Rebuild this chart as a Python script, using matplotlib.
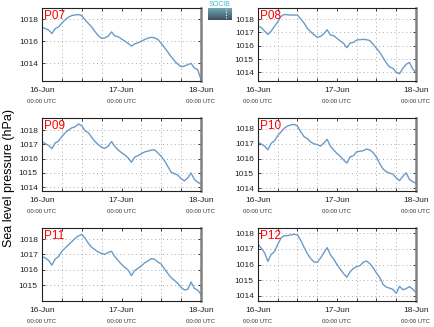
import matplotlib
matplotlib.use("Agg")
import matplotlib.pyplot as plt
import numpy as np

plt.rcParams['font.family'] = ['Liberation Sans', 'DejaVu Sans']

# hours since 16-Jun 00:00 UTC
hours = np.arange(49)

p07 = [1017.27, 1017.15, 1017.02, 1016.7, 1017.15, 1017.3, 1017.65, 1017.95, 1018.2, 1018.34,
       1018.4, 1018.43, 1018.34, 1017.94, 1017.62, 1017.3, 1016.87, 1016.5, 1016.25, 1016.3,
       1016.47, 1016.85, 1016.47, 1016.41, 1016.2, 1016.0, 1015.8, 1015.55, 1015.75, 1015.86,
       1016.0, 1016.15, 1016.28, 1016.35, 1016.3, 1016.15, 1015.8, 1015.4, 1015.0, 1014.58,
       1014.2, 1013.9, 1013.66, 1013.72, 1013.85, 1013.97, 1013.55, 1013.4, 1012.5]
p08 = [1017.48, 1017.35, 1017.1, 1016.85, 1017.1, 1017.45, 1017.8, 1018.2, 1018.35, 1018.32,
       1018.3, 1018.3, 1018.3, 1018.0, 1017.7, 1017.3, 1017.05, 1016.82, 1016.63, 1016.7,
       1016.9, 1017.2, 1016.8, 1016.75, 1016.55, 1016.35, 1016.18, 1015.85, 1016.2, 1016.25,
       1016.43, 1016.45, 1016.48, 1016.45, 1016.38, 1016.1, 1015.8, 1015.5, 1015.1, 1014.7,
       1014.4, 1014.3, 1014.0, 1013.9, 1014.3, 1014.6, 1014.75, 1014.25, 1013.95]
p09 = [1017.19, 1017.05, 1016.92, 1016.7, 1017.1, 1017.23, 1017.55, 1017.8, 1018.0, 1018.15,
       1018.23, 1018.42, 1018.3, 1017.95, 1017.81, 1017.49, 1017.2, 1016.98, 1016.79, 1016.72,
       1016.88, 1017.2, 1016.85, 1016.6, 1016.42, 1016.26, 1016.05, 1015.75, 1016.1, 1016.22,
       1016.35, 1016.47, 1016.53, 1016.6, 1016.62, 1016.4, 1016.16, 1015.85, 1015.45, 1015.05,
       1014.95, 1014.85, 1014.6, 1014.45, 1014.65, 1015.0, 1014.55, 1014.35, 1014.23]
p10 = [1017.1, 1016.98, 1016.85, 1016.6, 1017.03, 1017.2, 1017.55, 1017.8, 1018.06, 1018.2,
       1018.28, 1018.31, 1018.2, 1017.8, 1017.48, 1017.35, 1017.12, 1017.0, 1016.95, 1016.85,
       1017.05, 1017.3, 1016.85, 1016.58, 1016.35, 1016.15, 1015.91, 1015.7, 1016.13, 1016.2,
       1016.47, 1016.5, 1016.54, 1016.65, 1016.58, 1016.4, 1016.1, 1015.65, 1015.3, 1015.12,
       1015.02, 1014.95, 1014.7, 1014.52, 1014.8, 1015.05, 1014.6, 1014.45, 1014.34]
p11 = [1016.85, 1016.77, 1016.6, 1016.3, 1016.7, 1016.85, 1017.2, 1017.42, 1017.62, 1017.83,
       1018.05, 1018.2, 1018.3, 1018.05, 1017.72, 1017.46, 1017.3, 1017.15, 1017.07, 1017.0,
       1017.13, 1017.2, 1016.85, 1016.6, 1016.35, 1016.15, 1015.98, 1015.62, 1015.95, 1016.1,
       1016.25, 1016.45, 1016.57, 1016.72, 1016.68, 1016.5, 1016.36, 1016.05, 1015.75, 1015.48,
       1015.3, 1015.1, 1014.85, 1014.68, 1014.72, 1015.2, 1014.78, 1014.67, 1014.39]
p12 = [1017.29, 1017.05, 1016.75, 1016.2, 1016.65, 1016.82, 1017.3, 1017.7, 1017.85, 1017.85,
       1017.9, 1017.94, 1017.89, 1017.55, 1017.1, 1016.7, 1016.38, 1016.17, 1016.14, 1016.42,
       1016.75, 1017.08, 1016.62, 1016.35, 1016.0, 1015.7, 1015.42, 1015.18, 1015.54, 1015.75,
       1015.86, 1015.93, 1016.15, 1016.22, 1016.05, 1015.78, 1015.45, 1015.15, 1014.72, 1014.55,
       1014.48, 1014.4, 1014.15, 1014.6, 1014.38, 1014.45, 1014.58, 1014.42, 1014.21]

names = ['P07', 'P08', 'P09', 'P10', 'P11', 'P12']
series = [p07, p08, p09, p10, p11, p12]
ylims = [(1012.36, 1019.03), (1013.35, 1018.83), (1013.74, 1018.84),
         (1013.82, 1018.74), (1013.96, 1018.72), (1013.66, 1018.34)]
yticks = [[1014, 1016, 1018], [1014, 1015, 1016, 1017, 1018], [1014, 1015, 1016, 1017, 1018],
          [1014, 1015, 1016, 1017, 1018], [1015, 1016, 1017, 1018], [1014, 1015, 1016, 1017, 1018]]
xtick_pos = [0, 24, 48]
xtick_labels = ['16-Jun', '17-Jun', '18-Jun']

W, H = 435, 327
fig = plt.figure(figsize=(W / 100, H / 100), dpi=100)

lefts = [42, 258]
widths = [159, 158]
tops = [8, 118, 228]
ax_h = 73

for i, (name, vals) in enumerate(zip(names, series)):
    r, c = divmod(i, 2)
    ax = fig.add_axes([lefts[c] / W, 1 - (tops[r] + ax_h) / H, widths[c] / W, ax_h / H])
    ax.plot(hours, vals, color='#6b9bc9', lw=1.0)
    ax.set_xlim(0, 48)
    ax.set_ylim(*ylims[i])
    ax.set_yticks(yticks[i])
    ax.set_yticklabels([str(t) for t in yticks[i]])
    ax.set_xticks(xtick_pos)
    ax.set_xticklabels(xtick_labels)
    ax.set_xticks(np.arange(0, 49, 6), minor=True)
    ax.tick_params(which='both', direction='in', labelsize=6, length=2.5, width=0.6,
                   top=True, right=True, pad=3, colors='#222222')
    ax.tick_params(axis='x', pad=4)
    ax.grid(True, which='major', axis='y', ls=(0, (1, 3)), color='#aaaaaa', lw=0.7)
    ax.grid(True, which='minor', axis='x', ls=(0, (1, 3)), color='#aaaaaa', lw=0.7)
    for s in ['left', 'top', 'bottom']:
        ax.spines[s].set_linewidth(0.8)
        ax.spines[s].set_color('#222222')
    ax.spines['right'].set_linewidth(1.8)
    ax.spines['right'].set_color('#808080')
    for xp in xtick_pos:
        ax.text(xp, -0.245, '00:00 UTC', transform=ax.get_xaxis_transform(),
                ha='center', va='top', fontsize=4.3, color='#333333')
    ax.text(0.01, 0.97, name, transform=ax.transAxes, ha='left', va='top',
            fontsize=8.5, color='red')

fig.text(9 / W, 0.455, 'Sea level pressure (hPa)', rotation=90, ha='center', va='center',
         fontsize=9)

# small logo at top
logo = fig.add_axes([208 / W, 1 - 20 / H, 24 / W, 12 / H])
grad = np.linspace(0, 1, 50).reshape(-1, 1)
logo.imshow(grad, aspect='auto', cmap=matplotlib.colors.LinearSegmentedColormap.from_list(
    'lg', ['#6fa8b8', '#3d4f5c']), extent=[0, 1, 0, 1])
logo.plot([0.75, 0.75], [0.15, 0.95], color='white', ls=(0, (1, 1.5)), lw=0.8)
logo.set_xlim(0, 1)
logo.set_ylim(0, 1)
logo.axis('off')
fig.text(220 / W, 1 - 5 / H, 'SOCIB', ha='center', va='center', fontsize=5,
         color='#3ab8d0')

fig.savefig('out.png', dpi=100)
